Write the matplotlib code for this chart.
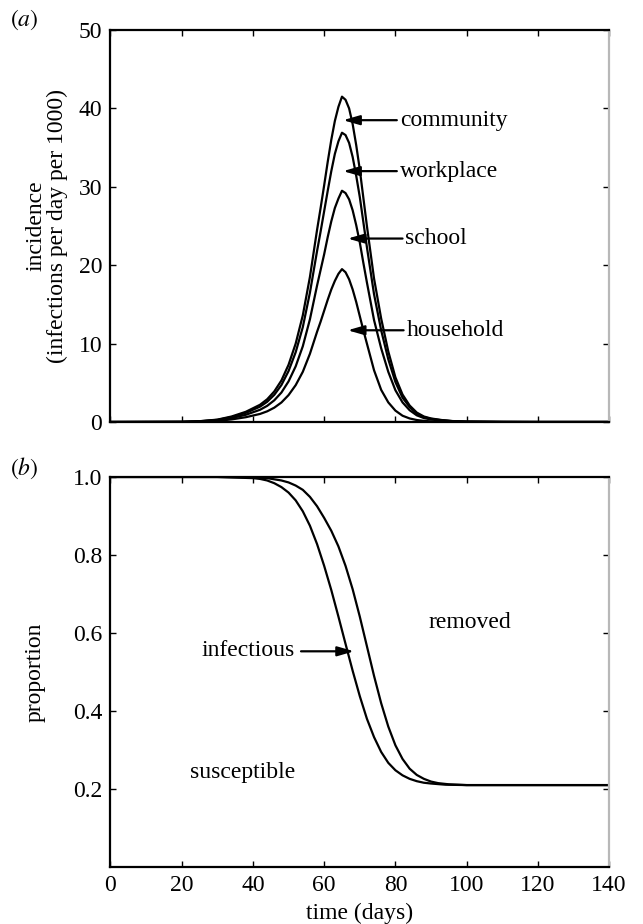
#! /usr/bin/env python

import matplotlib
matplotlib.use('Agg')
import matplotlib.pyplot as plt

plt.rcParams['font.family'] = ['Liberation Serif', 'DejaVu Serif']
plt.rcParams['mathtext.fontset'] = 'stix'
plt.rcParams['font.size'] = 17

# (a) incidence, infections per day per 1000 (curves)
days_a = [0, 20, 25, 30, 34, 38, 42, 44, 46, 48, 50, 52, 54, 56, 58, 59, 60, 61,
          62, 63, 64, 65, 66, 67, 68, 69, 70, 71, 72, 74, 76, 78, 80, 82, 84, 86,
          88, 90, 93, 96, 100, 110, 120, 140]
community = [0, 0.02, 0.1, 0.3, 0.7, 1.3, 2.2, 2.9, 3.9, 5.3, 7.3, 10.0, 13.6,
             18.5, 24.5, 27.3, 30.2, 33.2, 36.0, 38.4, 40.2, 41.5, 41.1, 40.0,
             38.0, 35.3, 32.2, 28.6, 25.0, 18.3, 13.2, 9.0, 5.7, 3.5, 2.1, 1.2,
             0.7, 0.45, 0.25, 0.12, 0.05, 0.01, 0, 0]
workplace = [0, 0.02, 0.09, 0.27, 0.62, 1.16, 1.96, 2.58, 3.47, 4.72, 6.5, 8.9,
             12.1, 16.5, 21.8, 24.3, 26.9, 29.5, 32.0, 34.2, 35.8, 36.9, 36.6,
             35.6, 33.8, 31.4, 28.7, 25.5, 22.3, 16.3, 11.7, 8.0, 5.1, 3.1, 1.9,
             1.07, 0.62, 0.4, 0.22, 0.11, 0.04, 0.01, 0, 0]
school = [0, 0.01, 0.07, 0.21, 0.5, 0.92, 1.56, 2.06, 2.77, 3.76, 5.18, 7.1,
          9.66, 13.1, 17.4, 19.4, 21.4, 23.6, 25.6, 27.3, 28.5, 29.5, 29.2, 28.4,
          27.0, 25.1, 22.9, 20.3, 17.8, 13.0, 9.4, 6.4, 4.05, 2.5, 1.5, 0.85,
          0.5, 0.32, 0.18, 0.09, 0.04, 0.01, 0, 0]
household = [0, 0.01, 0.05, 0.14, 0.33, 0.61, 1.03, 1.36, 1.83, 2.49, 3.43, 4.7,
             6.4, 8.7, 11.5, 12.8, 14.2, 15.6, 16.9, 18.0, 18.9, 19.5, 19.1,
             18.2, 16.9, 15.3, 13.5, 11.7, 10.0, 6.6, 4.1, 2.5, 1.45, 0.8, 0.45,
             0.25, 0.14, 0.08, 0.04, 0.02, 0.01, 0, 0, 0]

# (b) proportions
days_b = [0, 30, 40, 42, 44, 46, 48, 50, 52, 54, 56, 58, 60, 62, 64, 66, 68, 70,
          72, 74, 76, 78, 80, 82, 84, 86, 88, 90, 94, 100, 140]
susceptible = [1.0, 1.0, 0.997, 0.995, 0.991, 0.984, 0.974, 0.960, 0.940, 0.912,
               0.875, 0.828, 0.772, 0.710, 0.642, 0.572, 0.503, 0.438, 0.380,
               0.333, 0.295, 0.267, 0.248, 0.235, 0.226, 0.220, 0.216, 0.214,
               0.211, 0.21, 0.21]
days_c = [0, 30, 40, 44, 48, 50, 52, 54, 56, 58, 60, 62, 64, 66, 68, 70, 72, 74,
          76, 78, 80, 82, 84, 86, 88, 90, 92, 95, 100, 140]
not_removed = [1.0, 1.0, 0.999, 0.997, 0.991, 0.986, 0.978, 0.967, 0.949, 0.925,
               0.895, 0.862, 0.822, 0.772, 0.712, 0.642, 0.566, 0.490, 0.420,
               0.360, 0.312, 0.277, 0.252, 0.236, 0.226, 0.219, 0.215, 0.212,
               0.21, 0.21]

fig = plt.figure(figsize=(6.43, 9.24), dpi=100)
ax1 = fig.add_axes([0.1718, 0.5433, 0.7755, 0.4242])
ax2 = fig.add_axes([0.1718, 0.0617, 0.7755, 0.4221])

lw = 1.6
for curve in (community, workplace, school, household):
    ax1.plot(days_a, curve, 'k-', lw=lw)
ax2.plot(days_b, susceptible, 'k-', lw=lw)
ax2.plot(days_c, not_removed, 'k-', lw=lw)

arrow_kw = dict(arrowstyle='-|>,head_length=0.45,head_width=0.13', lw=1.6,
                color='k', mutation_scale=22, shrinkA=0, shrinkB=0)

# label, arrow tip, arrow tail, text x
labels_a = [
    ('community', (65.3, 38.5), 80.4, 81.2),
    ('workplace', (65.3, 32.0), 80.4, 81.2),
    ('school', (66.6, 23.4), 82.0, 82.8),
    ('household', (66.6, 11.7), 82.3, 83.1),
]
for txt, tip, tail_x, text_x in labels_a:
    ax1.annotate('', xy=tip, xytext=(tail_x, tip[1]), arrowprops=arrow_kw)
    ax1.text(text_x, tip[1], txt, ha='left', va='center')

ax2.annotate('', xy=(68.4, 0.553), xytext=(53.5, 0.553), arrowprops=arrow_kw)
ax2.text(51.6, 0.556, 'infectious', ha='right', va='center')
ax2.text(37, 0.243, 'susceptible', ha='center', va='center')
ax2.text(101, 0.628, 'removed', ha='center', va='center')

for ax in (ax1, ax2):
    ax.set_xlim(0, 140)
    ax.set_xticks(range(0, 141, 20))
    ax.tick_params(which='both', direction='in', top=True, right=True,
                   length=4, width=1.0, pad=6)
    for side in ('left', 'bottom', 'top'):
        ax.spines[side].set_linewidth(1.6)
    ax.spines['right'].set_linewidth(1.6)
    ax.spines['right'].set_color('#b8b8b8')

ax1.set_ylim(0, 50)
ax1.set_yticks(range(0, 51, 10))
ax1.set_xticklabels([])
ax1.set_ylabel('incidence\n(infections per day per 1000)', linespacing=1.05)
ax1.yaxis.set_label_coords(-0.085, 0.5)

ax2.set_ylim(0, 1.0)
ax2.set_yticks([0.2, 0.4, 0.6, 0.8, 1.0])
ax2.set_yticklabels(['0.2', '0.4', '0.6', '0.8', '1.0'])
ax2.set_ylabel('proportion')
ax2.yaxis.set_label_coords(-0.13, 0.5)
ax2.set_xlabel('time (days)', labelpad=5)

fig.text(10 / 643, 1 - 20 / 924, r'$(a)$', ha='left', va='center')
fig.text(10 / 643, 1 - 468 / 924, r'$(b)$', ha='left', va='center')

plt.savefig('out.png', dpi=100)
